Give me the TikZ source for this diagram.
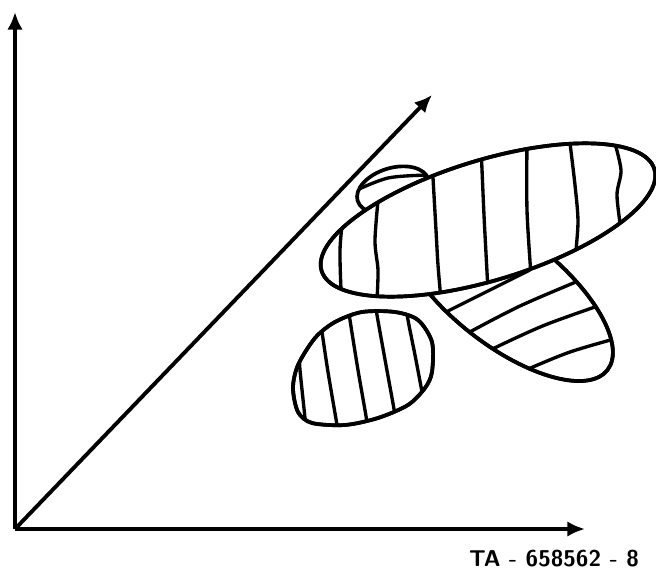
\documentclass[tikz,border=0pt]{standalone}
\usetikzlibrary{arrows.meta}
\begin{document}
\begin{tikzpicture}[x=0.01cm,y=-0.01cm,
  axis/.style={line width=1.1pt,-{Latex[length=5pt,width=4.4pt]}},
  blob/.style={line width=1.05pt,fill=white},
  stripe/.style={line width=0.95pt}]
\useasboundingbox (0,0) rectangle (656,572);
% axes
\coordinate (o) at (15,529);
\coordinate (ytip) at (15,12);
\coordinate (xtip) at (585,529);
\coordinate (dtip) at (432,95);
\draw[axis] (o) -- (ytip);
\draw[axis] (o) -- (xtip);
\draw[axis] (o) -- (dtip);
% small cap behind the big lobe
\draw[blob,rotate around={17:(393,190)}] (393,190) ellipse [x radius=37,y radius=22];
\begin{scope}
  \clip[rotate around={17:(393,190)}] (393,190) ellipse [x radius=37,y radius=22];
  \draw[stripe] plot[smooth] coordinates {(350,193) (388,178) (430,175)};
\end{scope}
% lower lobe
\draw[blob,rotate around={-38:(505,290)}] (505,290) ellipse [x radius=130,y radius=55];
\begin{scope}
  \clip[rotate around={-38:(505,290)}] (505,290) ellipse [x radius=130,y radius=55];
  \draw[stripe] plot[smooth] coordinates {(430,320) (470,300) (530,270)};
  \draw[stripe] plot[smooth] coordinates {(455,340) (520,306) (600,272)};
  \draw[stripe] plot[smooth] coordinates {(480,355) (545,325) (630,295)};
  \draw[stripe] plot[smooth] coordinates {(510,377) (570,352) (640,332)};
\end{scope}
\draw[line width=1.05pt,rotate around={-38:(505,290)}] (505,290) ellipse [x radius=130,y radius=55];
% big lobe
\draw[blob,rotate around={17:(488,220)}] (488,220) ellipse [x radius=174,y radius=60];
\begin{scope}
  \clip[rotate around={17:(488,220)}] (488,220) ellipse [x radius=174,y radius=60];
  \draw[stripe] plot[smooth] coordinates {(343,215) (340,250) (341,290)};
  \draw[stripe] plot[smooth] coordinates {(379,190) (375,240) (378,270) (377,300)};
  \draw[stripe] plot[smooth] coordinates {(432,160) (436,230) (438,265) (441,300)};
  \draw[stripe] plot[smooth] coordinates {(481,145) (484,215) (488,290)};
  \draw[stripe] plot[smooth] coordinates {(527,140) (527,210) (531,275)};
  \draw[stripe] plot[smooth] coordinates {(569,135) (575,185) (578,222) (575,260)};
  \draw[stripe] plot[smooth] coordinates {(614,140) (621,170) (617,195) (621,230)};
\end{scope}
\draw[line width=1.05pt,rotate around={17:(488,220)}] (488,220) ellipse [x radius=174,y radius=60];
% egg
\def\eggpath{plot[smooth cycle] coordinates {(362,312) (395,312) (418,320) (432,342)
  (432,372) (425,388) (408,405) (378,418) (345,425) (312,423) (298,412)
  (293,388) (298,365) (315,338) (335,322)}}
\draw[blob] \eggpath;
\begin{scope}
  \clip \eggpath;
  \draw[stripe] plot[smooth] coordinates {(320,320) (322,332) (328,372) (337,425) (339,440)};
  \draw[stripe] plot[smooth] coordinates {(348,305) (350,320) (358,370) (367,422) (369,440)};
  \draw[stripe] plot[smooth] coordinates {(375,300) (377,315) (386,365) (395,415) (397,435)};
  \draw[stripe] plot[smooth] coordinates {(405,300) (408,320) (415,355) (422,392) (425,410)};
  \draw[stripe] plot[smooth] coordinates {(299,350) (300,370) (305,418) (306,430)};
\end{scope}
\draw[line width=1.05pt] \eggpath;
% label
\node (tag) at (554,559) {\sffamily\bfseries\fontsize{6.5}{7}\selectfont TA - 658562 - 8};
\end{tikzpicture}
\end{document}
